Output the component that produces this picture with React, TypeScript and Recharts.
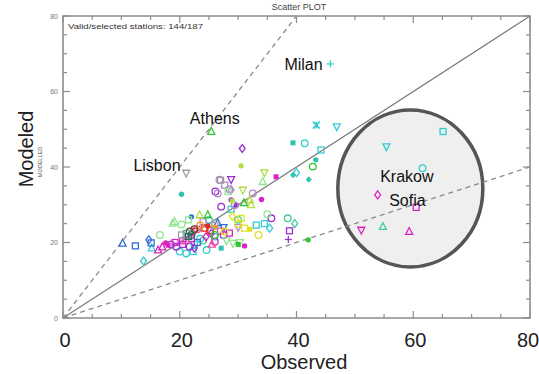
import React from 'react';
import { ScatterChart, Scatter, XAxis, YAxis, ReferenceArea, ReferenceDot } from 'recharts';

// axis ticks (minor every 5, labelled every 20)
const xTicks = [0, 5, 10, 15, 20, 25, 30, 35, 40, 45, 50, 55, 60, 65, 70, 75, 80];
const yTicks = [0, 5, 10, 15, 20, 25, 30, 35, 40, 45, 50, 55, 60, 65, 70, 75, 80];

// reference lines 1:1, 2:1, 1:2
const lineOneOne = [[0, 0], [80, 80]];
const lineTwoOne = [[0, 0], [40, 80]];
const lineOneTwo = [[0, 0], [80, 40]];
const circleCentre = [[59.5, 34.3]];

const cityNames = ['Milan', 'Athens', 'Lisbon', 'Krakow', 'Sofia'];
const cityAt = [[41.2, 67.2], [26.0, 52.8], [16.1, 40.4], [58.9, 37.6], [59.0, 31.3]];

// stations, observed vs modelled
const cyanPts = [
  [45.8, 67.3], [43.4, 51.1], [46.9, 50.7], [41.4, 46.3], [44.2, 44.5], [40.0, 38.5], [55.4, 45.4],
  [65.1, 49.4], [61.6, 39.7], [33.1, 24.6], [34.5, 25.0], [35.4, 23.8], [20.0, 17.6], [21.1, 17.1],
  [22.3, 17.6], [24.6, 18.0], [13.8, 15.1], [15.2, 18.5], [23.5, 21.0], [26.0, 21.5], [28.8, 28.8],
  [25.0, 26.0], [22.5, 19.5],
];
const tealPts = [[39.4, 46.4], [43.3, 41.9], [42.1, 36.7], [39.4, 37.9], [20.3, 32.8], [27.1, 18.5]];
const seafoamPts = [[38.5, 26.4], [39.7, 25.0], [54.8, 24.2], [21.1, 22.4], [24.0, 20.5], [30.0, 26.0]];
const bluePts = [[10.2, 19.8], [12.4, 19.1], [14.7, 20.7], [15.1, 19.9], [22.0, 26.8], [26.5, 25.2], [27.5, 24.0], [23.0, 20.0]];
const purplePts = [
  [30.7, 44.9], [28.8, 36.7], [26.1, 33.5], [27.1, 29.5], [29.7, 29.9], [28.8, 31.3], [35.7, 26.4],
  [38.8, 23.1], [38.6, 20.8], [21.7, 18.9], [19.4, 18.9], [20.5, 19.5], [25.4, 22.4], [22.5, 18.5],
  [27.5, 22.0], [18.5, 19.5],
];
const violetPts = [[26.8, 36.6], [28.5, 34.1], [27.7, 35.2], [29.4, 29.9], [28.8, 33.9], [26.5, 33.0], [32.5, 33.0], [24.0, 25.5], [30.0, 24.0]];
const magentaPts = [
  [36.5, 37.4], [34.0, 31.4], [31.1, 19.1], [17.6, 19.9], [18.0, 19.3], [53.9, 32.6], [60.5, 29.3],
  [51.1, 23.3], [59.3, 22.9], [16.3, 18.0], [17.0, 18.8], [19.2, 20.0], [20.5, 20.5], [22.0, 21.0],
  [26.0, 20.2], [24.5, 21.5], [28.5, 22.5],
];
const pinkPts = [[23.0, 23.5], [27.0, 23.0], [21.0, 20.5], [25.5, 19.5]];
const redPts = [[24.3, 23.8], [24.8, 24.4], [22.5, 23.0], [25.2, 23.2]];
const orangePts = [[23.5, 24.5], [26.0, 24.0]];
const yellowPts = [[30.5, 26.4], [31.1, 23.8], [27.7, 22.9], [30.0, 25.0], [29.0, 27.0], [33.5, 22.0], [32.0, 23.5]];
const limePts = [[30.5, 40.3], [34.5, 38.5], [30.8, 33.9], [23.4, 27.3], [32.0, 31.3], [32.2, 30.0], [29.0, 31.0]];
const lightGreenPts = [
  [18.8, 25.1], [19.1, 25.5], [16.6, 22.0], [20.3, 24.8], [34.2, 36.1], [28.3, 33.5], [21.5, 26.0],
  [29.1, 19.8], [30.3, 20.0], [28.0, 20.5], [35.0, 27.5],
];
const greenPts = [[25.4, 49.4], [42.8, 40.1], [42.0, 20.7], [24.8, 27.3], [31.0, 30.5], [26.0, 22.0], [30.0, 19.5]];
const greyPts = [[21.1, 38.4], [20.3, 22.0], [27.0, 36.5], [26.0, 24.5]];
const brownPts = [[21.7, 22.9], [22.5, 23.5]];
const darkTealPts = [[21.5, 21.6], [22.0, 22.0]];

const SERIES = [
  { pts: cyanPts, color: '#33cdd4', marks: ['pl', 'x', 'td', 'ci', 'sq', 'di', 'td', 'sq', 'ci', 'sq', 'sq', 'di', 'ci', 'ci', 'sq', 'ci', 'di', 'tu', 'ci', 'sq', 'sq', 'ci', 'sq'] },
  { pts: tealPts, color: '#2ec2b0', marks: ['fsq', 'fci', 'fdi', 'fdi', 'fci', 'fsq'] },
  { pts: seafoamPts, color: '#45cc9c', marks: ['ci', 'di', 'tu', 'sq', 'ci', 'ci'] },
  { pts: bluePts, color: '#2f6fd6', marks: ['tu', 'sq', 'di', 'sq', 'fci', 'tu', 'td', 'sq'] },
  { pts: purplePts, color: '#9a30d0', marks: ['di', 'td', 'ci', 'ci', 'fci', 'fci', 'ci', 'sq', 'pl', 'ci', 'ci', 'sq', 'di', 'di', 'ci', 'ci'] },
  { pts: violetPts, color: '#b48ad0', marks: ['ci', 'ci', 'sq', 'ci', 'di', 'ci', 'ci', 'sq', 'td'] },
  { pts: magentaPts, color: '#dc22c4', marks: ['fsq', 'fci', 'fci', 'fci', 'fsq', 'di', 'sq', 'td', 'tu', 'tu', 'tu', 'sq', 'ci', 'sq', 'ci', 'di', 'sq'] },
  { pts: pinkPts, color: '#f04c9e', marks: ['ci', 'sq', 'ci', 'tu'] },
  { pts: redPts, color: '#e02a22', marks: ['sq', 'fci', 'td', 'ci'] },
  { pts: orangePts, color: '#f5a020', marks: ['ci', 'fsq'] },
  { pts: yellowPts, color: '#e2e022', marks: ['sq', 'sq', 'ci', 'ci', 'di', 'ci', 'fci'] },
  { pts: limePts, color: '#b2dc44', marks: ['fci', 'td', 'td', 'tu', 'tu', 'tu', 'fsq'] },
  { pts: lightGreenPts, color: '#8fe48f', marks: ['tu', 'tu', 'ci', 'ci', 'tu', 'sq', 'sq', 'td', 'td', 'td', 'ci'] },
  { pts: greenPts, color: '#30c630', marks: ['tu', 'ci', 'fci', 'tu', 'tu', 'ci', 'fsq'] },
  { pts: greyPts, color: '#a29ca2', marks: ['td', 'sq', 'sq', 'sq'] },
  { pts: brownPts, color: '#6a4a40', marks: ['ci', 'ci'] },
  { pts: darkTealPts, color: '#227060', marks: ['sq', 'ci'] },
];

const W = 539;
const H = 374;
const M = { top: 16, right: 9, left: 62, bottom: 55 };
const PW = 467;
const PH = 302;
const FONT = 'Liberation Sans, Arial, sans-serif';
const AXIS = '#8c8c8c';

const toRows = (pts: number[][], marks?: string[]) =>
  pts.map((p, i) => ({ x: p[0], y: p[1], m: marks ? marks[i % marks.length] : '' }));

const Marker = (props: any) => {
  const { cx, cy, color } = props;
  const m = props.payload?.m ?? props.m;
  if (cx == null || cy == null) return <g />;
  const r = 3.5;
  const sw = 1.3;
  const open = { fill: 'none', stroke: color, strokeWidth: sw };
  switch (m) {
    case 'tu':
      return <polygon points={`${cx},${cy - r - 0.5} ${cx - r},${cy + r * 0.8} ${cx + r},${cy + r * 0.8}`} {...open} />;
    case 'td':
      return <polygon points={`${cx},${cy + r + 0.5} ${cx - r},${cy - r * 0.8} ${cx + r},${cy - r * 0.8}`} {...open} />;
    case 'sq':
      return <rect x={cx - r * 0.85} y={cy - r * 0.85} width={r * 1.7} height={r * 1.7} {...open} />;
    case 'di':
      return <polygon points={`${cx},${cy - r - 0.5} ${cx + r * 0.85},${cy} ${cx},${cy + r + 0.5} ${cx - r * 0.85},${cy}`} {...open} />;
    case 'ci':
      return <circle cx={cx} cy={cy} r={r * 0.95} {...open} />;
    case 'pl':
      return (
        <g stroke={color} strokeWidth={sw}>
          <line x1={cx - r} y1={cy} x2={cx + r} y2={cy} />
          <line x1={cx} y1={cy - r} x2={cx} y2={cy + r} />
        </g>
      );
    case 'x':
      return (
        <g stroke={color} strokeWidth={sw + 0.4}>
          <line x1={cx - r} y1={cy - r} x2={cx + r} y2={cy + r} />
          <line x1={cx - r} y1={cy + r} x2={cx + r} y2={cy - r} />
          <line x1={cx} y1={cy - r} x2={cx} y2={cy + r} />
        </g>
      );
    case 'fsq':
      return <rect x={cx - 2.5} y={cy - 2.5} width={5} height={5} fill={color} />;
    case 'fdi':
      return <polygon points={`${cx},${cy - 3.2} ${cx + 3},${cy} ${cx},${cy + 3.2} ${cx - 3},${cy}`} fill={color} />;
    default:
      return <circle cx={cx} cy={cy} r={2.7} fill={color} />;
  }
};

const XTick = ({ x, payload }: any) => {
  const v = payload.value;
  const major = v % 20 === 0;
  const len = major ? 7 : 4;
  const base = 318;
  return (
    <g>
      <line x1={x} y1={base} x2={x} y2={base - len} stroke={AXIS} strokeWidth={1.2} />
      <line x1={x} y1={base - PH} x2={x} y2={base - PH + len} stroke={AXIS} strokeWidth={1.2} />
      {major && (
        <text x={v === 80 ? x - 2 : x + 2} y={base + 29} textAnchor="middle" fontSize={20} fill="#222" fontFamily={FONT}>
          {v}
        </text>
      )}
    </g>
  );
};

const YTick = ({ y, payload }: any) => {
  const v = payload.value;
  const major = v % 20 === 0;
  const len = major ? 7 : 4;
  const base = 63;
  return (
    <g>
      <line x1={base} y1={y} x2={base + len} y2={y} stroke={AXIS} strokeWidth={1.2} />
      <line x1={base + PW} y1={y} x2={base + PW - len} y2={y} stroke={AXIS} strokeWidth={1.2} />
      {major && (
        <text x={base - 5} y={y + 2.5} textAnchor="end" fontSize={7} fill="#777" fontFamily={FONT}>
          {v}
        </text>
      )}
    </g>
  );
};

const Nothing = () => <g />;

export default function App() {
  return (
    <div style={{ position: 'absolute', left: 0, top: 0, width: W, height: H, background: '#fff' }}>
      <ScatterChart width={W} height={H} margin={M}>
        <XAxis
          type="number"
          dataKey="x"
          domain={[0, 80]}
          ticks={xTicks}
          interval={0}
          height={1}
          tickSize={0}
          tickMargin={0}
          tickLine={false}
          tick={<XTick />}
          axisLine={false}
        />
        <YAxis
          type="number"
          dataKey="y"
          domain={[0, 80]}
          ticks={yTicks}
          interval={0}
          width={1}
          tickSize={0}
          tickMargin={0}
          tickLine={false}
          tick={<YTick />}
          axisLine={false}
        />
        <ReferenceArea x1={0} x2={80} y1={0} y2={80} fill="none" stroke={AXIS} strokeWidth={1.6} ifOverflow="visible" />

        <Scatter
          data={toRows(circleCentre)}
          isAnimationActive={false}
          shape={(p: any) => (
            <ellipse cx={p.cx} cy={p.cy} rx={72.5} ry={78.5} fill="#efefef" stroke="#555" strokeWidth={3.5} />
          )}
        />
        <Scatter data={toRows(lineOneOne)} isAnimationActive={false} shape={Nothing} line={{ stroke: '#7a7a7a', strokeWidth: 1.2 }} />
        <Scatter data={toRows(lineTwoOne)} isAnimationActive={false} shape={Nothing} line={{ stroke: '#8a8a8a', strokeWidth: 1.3, strokeDasharray: '5 4' }} />
        <Scatter data={toRows(lineOneTwo)} isAnimationActive={false} shape={Nothing} line={{ stroke: '#8a8a8a', strokeWidth: 1.3, strokeDasharray: '5 4' }} />

        {SERIES.map((s, i) => (
          <Scatter
            key={i}
            data={toRows(s.pts, s.marks)}
            isAnimationActive={false}
            shape={(p: any) => <Marker {...p} color={s.color} />}
          />
        ))}

        {cityNames.map((name, i) => (
          <ReferenceDot
            key={name}
            x={cityAt[i][0]}
            y={cityAt[i][1]}
            r={0}
            stroke="none"
            fill="none"
            label={{ value: name, position: 'center', fontSize: 16, fill: '#111', fontFamily: FONT }}
          />
        ))}
      </ScatterChart>

      <svg width={W} height={H} style={{ position: 'absolute', left: 0, top: 0, pointerEvents: 'none' }}>
        <text x={299} y={10} textAnchor="middle" fontSize={9} fill="#444" fontFamily={FONT}>
          Scatter PLOT
        </text>
        <text x={68} y={29} fontSize={8} fill="#333" fontFamily={FONT} textLength={135} lengthAdjust="spacingAndGlyphs">
          Valid/selected stations: 144/187
        </text>
        <text transform="translate(33,149) rotate(-90)" textAnchor="middle" fontSize={20} fill="#222" fontFamily={FONT}>
          Modeled
        </text>
        <text transform="translate(42,162) rotate(-90)" textAnchor="middle" fontSize={5.5} fill="#555" fontFamily={FONT}>
          MODELLED
        </text>
        <text x={304} y={369} textAnchor="middle" fontSize={20} fill="#222" fontFamily={FONT}>
          Observed
        </text>
      </svg>
    </div>
  );
}
